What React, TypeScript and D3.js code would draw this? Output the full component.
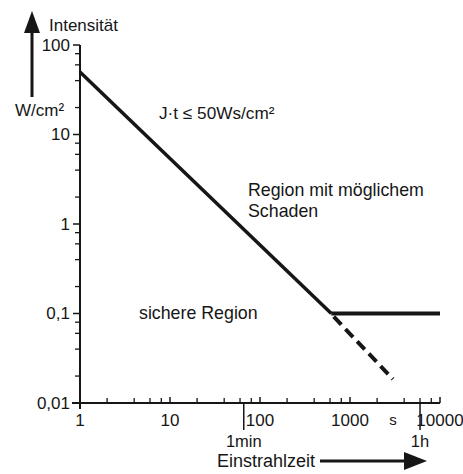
import React, { useEffect, useRef } from "react";
import * as d3 from "d3";

// exposure time (s) vs. intensity (W/cm²)
const limitTimes = [1, 620];
const limitValues = [50, 0.1];
const plateauTimes = [620, 10000];
const plateauValues = [0.1, 0.1];
const extTimes = [660, 3000];
const extValues = [0.092, 0.0185];

const xMajorTicks = [1, 10, 100, 1000, 10000];
const xTickLabels = ["1", "10", "100", "1000", "10000"];
const yMajorTicks = [100, 10, 1, 0.1, 0.01];
const yTickLabels = ["100", "10", "1", "0,1", "0,01"];
const minorSteps = [2, 4, 6, 8];
const timeMarks = [66, 6000];
const timeMarkLabels = ["1min", "1h"];

const ink = "#161616";
const font = "'Liberation Sans', Arial, sans-serif";
const narrow = "'Liberation Sans Narrow', 'Liberation Sans', Arial, sans-serif";

const App: React.FC = () => {
  const ref = useRef<SVGSVGElement>(null);

  useEffect(() => {
    const width = 463;
    const height = 474;
    const svg = d3.select(ref.current);
    svg.selectAll("*").remove();
    svg.attr("width", width).attr("height", height);

    const x = d3.scaleLog().domain([1, 10000]).range([80, 440]);
    const y = d3.scaleLog().domain([0.01, 100]).range([403, 45]);

    const minorX: number[] = [];
    for (let d = 1; d < 10000; d *= 10) minorSteps.forEach((s) => minorX.push(d * s));
    const minorY: number[] = [];
    for (let d = 0.01; d < 99; d *= 10) minorSteps.forEach((s) => minorY.push(d * s));

    const g = svg.append("g");

    // axes
    g.append("line")
      .attr("x1", x(1)).attr("x2", x(1))
      .attr("y1", y(100)).attr("y2", y(0.01) + 6)
      .attr("stroke", ink).attr("stroke-width", 2);
    g.append("line")
      .attr("x1", x(1) - 8).attr("x2", x(10000))
      .attr("y1", y(0.01)).attr("y2", y(0.01))
      .attr("stroke", ink).attr("stroke-width", 2);

    // y ticks
    g.selectAll(".ymaj").data(yMajorTicks).join("line")
      .attr("x1", x(1) - 7).attr("x2", x(1))
      .attr("y1", (d) => y(d)).attr("y2", (d) => y(d))
      .attr("stroke", ink).attr("stroke-width", 1.5);
    g.selectAll(".ymin").data(minorY).join("line")
      .attr("x1", x(1) - 5).attr("x2", x(1))
      .attr("y1", (d) => y(d)).attr("y2", (d) => y(d))
      .attr("stroke", ink).attr("stroke-width", 1.3);
    g.selectAll(".ylab").data(yMajorTicks).join("text")
      .attr("x", x(1) - 10)
      .attr("y", (d) => y(d) + 5.5)
      .attr("text-anchor", "end")
      .style("font-family", narrow).style("font-size", "17px").attr("fill", ink)
      .text((_, i) => yTickLabels[i]);

    // x ticks
    g.selectAll(".xmaj").data(xMajorTicks).join("line")
      .attr("x1", (d) => x(d)).attr("x2", (d) => x(d))
      .attr("y1", y(0.01) - 6).attr("y2", y(0.01))
      .attr("stroke", ink).attr("stroke-width", 1.5);
    g.selectAll(".xmin").data(minorX).join("line")
      .attr("x1", (d) => x(d)).attr("x2", (d) => x(d))
      .attr("y1", y(0.01) - 5).attr("y2", y(0.01))
      .attr("stroke", ink).attr("stroke-width", 1.3);
    g.selectAll(".xlab").data(xMajorTicks).join("text")
      .attr("x", (d) => x(d))
      .attr("y", 426)
      .attr("text-anchor", "middle")
      .style("font-family", narrow).style("font-size", "17px").attr("fill", ink)
      .text((_, i) => xTickLabels[i]);

    // 1min / 1h marks
    g.selectAll(".tmark").data(timeMarks).join("line")
      .attr("x1", (d) => x(d)).attr("x2", (d) => x(d))
      .attr("y1", y(0.01)).attr("y2", y(0.01) + 27)
      .attr("stroke", ink).attr("stroke-width", 1.5);
    g.selectAll(".tlab").data(timeMarks).join("text")
      .attr("x", (d) => x(d))
      .attr("y", 447)
      .attr("text-anchor", "middle")
      .style("font-family", font).style("font-size", "16.5px").attr("fill", ink)
      .text((_, i) => timeMarkLabels[i]);
    g.append("text")
      .attr("x", 393).attr("y", 425).attr("text-anchor", "middle")
      .style("font-family", font).style("font-size", "15px").attr("fill", ink)
      .text("s");

    // curves
    const line = d3.line<[number, number]>().x((d) => x(d[0])).y((d) => y(d[1]));
    const zip = (a: number[], b: number[]) => a.map((v, i) => [v, b[i]] as [number, number]);
    g.append("path").attr("d", line(zip(limitTimes, limitValues)))
      .attr("fill", "none").attr("stroke", ink).attr("stroke-width", 3.5);
    g.append("path").attr("d", line(zip(plateauTimes, plateauValues)))
      .attr("fill", "none").attr("stroke", ink).attr("stroke-width", 4);
    g.append("path").attr("d", line(zip(extTimes, extValues)))
      .attr("fill", "none").attr("stroke", ink).attr("stroke-width", 4)
      .attr("stroke-dasharray", "11,6");

    // axis titles and arrows
    const txt = (s: string, tx: number, ty: number, size = 17) =>
      g.append("text").attr("x", tx).attr("y", ty)
        .style("font-family", font).style("font-size", `${size}px`).attr("fill", ink)
        .text(s);

    txt("Intensität", 49, 31, 17);
    txt("W/cm²", 15, 116, 17);
    g.append("line").attr("x1", 32).attr("x2", 32).attr("y1", 97).attr("y2", 28)
      .attr("stroke", ink).attr("stroke-width", 3);
    g.append("path").attr("d", "M32,11 L24,33 L40,33 Z").attr("fill", ink);

    txt("Einstrahlzeit", 217, 467, 18);
    g.append("line").attr("x1", 320).attr("x2", 408).attr("y1", 461).attr("y2", 461)
      .attr("stroke", ink).attr("stroke-width", 3);
    g.append("path").attr("d", "M427,461 L404,452 L404,470 Z").attr("fill", ink);

    // region labels
    txt("J·t ≤ 50Ws/cm²", 159, 119, 17.2);
    txt("Region mit möglichem", 248, 196, 17.8);
    txt("Schaden", 248, 217, 17.8);
    txt("sichere Region", 139, 319, 17.8);
  }, []);

  return (
    <svg
      ref={ref}
      style={{ position: "absolute", left: 0, top: 0, background: "#fff" }}
    />
  );
};

export default App;
